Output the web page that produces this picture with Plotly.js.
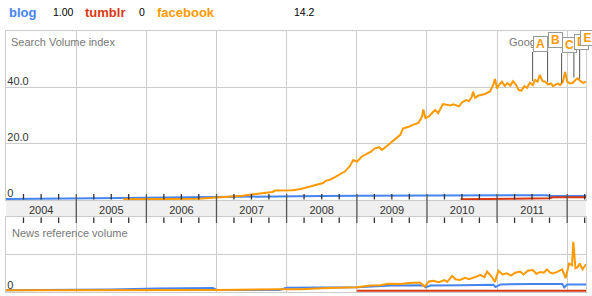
<!DOCTYPE html>
<html><head><meta charset="utf-8">
<script src="https://cdn.plot.ly/plotly-3.0.1.min.js"></script>
<style>html,body{margin:0;padding:0;background:#fff}#c{width:592px;height:296px}</style>
</head><body><div id="c"></div>
<script>
// ---- Search volume (decimal years) ----
const fbSearchYear = [2005.67,2005.8,2006.0,2006.25,2006.5,2006.75,2006.9,2007.0,2007.12,2007.25,2007.38,2007.5,2007.62,2007.72,2007.8,2007.84,2007.92,2008.0,2008.08,2008.19,2008.27,2008.33,2008.4,2008.47,2008.52,2008.56,2008.62,2008.69,2008.76,2008.83,2008.9,2008.95,2009.0,2009.07,2009.14,2009.2,2009.26,2009.32,2009.36,2009.42,2009.48,2009.55,2009.62,2009.66,2009.7,2009.75,2009.8,2009.85,2009.88,2009.93,2009.95,2009.98,2010.03,2010.08,2010.12,2010.16,2010.2,2010.23,2010.28,2010.33,2010.38,2010.42,2010.46,2010.5,2010.56,2010.6,2010.64,2010.66,2010.69,2010.73,2010.78,2010.83,2010.9,2010.95,2010.97,2011.0,2011.03,2011.07,2011.11,2011.15,2011.19,2011.23,2011.27,2011.31,2011.35,2011.39,2011.43,2011.47,2011.51,2011.54,2011.58,2011.61,2011.65,2011.69,2011.73,2011.77,2011.8,2011.83,2011.87,2011.9,2011.94,2011.97,2012.0,2012.04,2012.08,2012.12,2012.15,2012.19,2012.23,2012.27];
const fbSearchVal  = [0,0,0,0,0.05,0.2,0.45,0.6,0.8,1.0,1.3,1.7,2.0,2.3,2.6,3.1,3.1,3.0,3.2,3.6,4.1,4.7,5.0,5.5,5.8,6.6,7.0,7.9,8.8,9.9,11.8,14.0,13.4,15.2,16.2,17.0,18.2,18.6,17.6,18.8,20.0,21.4,23.0,25.3,25.6,26.0,26.6,27.0,27.3,29.5,32.1,29.0,29.6,31.0,31.9,30.7,32.5,34.0,33.8,33.5,33.9,33.6,33.2,34.6,35.4,35.0,36.5,38.4,36.2,37.0,37.3,37.6,38.5,41.0,43.0,39.6,40.8,42.0,40.5,41.5,40.6,42.2,41.0,39.0,38.8,40.4,39.8,41.6,40.8,42.6,42.0,44.4,42.2,42.0,41.0,41.4,40.4,40.8,41.4,40.8,42.0,45.5,42.0,41.4,41.6,42.6,43.2,42.2,41.6,42.0];
const blogSearchYear = [2004.0,2004.5,2004.8,2005.0,2005.5,2005.7,2006.0,2006.5,2007.0,2007.5,2008.0,2008.5,2009.0,2009.5,2010.0,2010.5,2011.0,2011.7,2011.78,2012.0,2012.27];
const blogSearchVal  = [0.1,0.15,0.15,0.25,0.35,0.45,0.55,0.7,0.9,1.1,1.2,1.2,1.25,1.3,1.35,1.45,1.45,1.45,1.2,1.15,1.15];
const tumblrSearchYear = [2010.48,2011.15,2011.2,2011.75,2011.8,2012.27];
const tumblrSearchVal  = [0,0.02,0.2,0.35,0.7,0.75];

// ---- News reference volume ----
const fbNewsYear = [2004.0,2005.0,2006.0,2007.0,2007.9,2008.2,2008.6,2009.0,2009.2,2009.33,2009.45,2009.62,2009.75,2009.9,2009.97,2010.03,2010.09,2010.17,2010.25,2010.29,2010.36,2010.41,2010.47,2010.55,2010.6,2010.66,2010.72,2010.76,2010.82,2010.86,2010.92,2010.97,2011.02,2011.08,2011.14,2011.2,2011.26,2011.33,2011.38,2011.44,2011.51,2011.56,2011.62,2011.67,2011.71,2011.76,2011.8,2011.86,2011.93,2011.98,2012.03,2012.07,2012.09,2012.12,2012.15,2012.18,2012.22,2012.27];
const fbNewsVal  = [0.02,0.02,0.02,0.03,0.05,0.05,0.08,0.1,0.15,0.16,0.2,0.19,0.22,0.23,0.12,0.26,0.28,0.24,0.3,0.25,0.41,0.32,0.3,0.36,0.32,0.35,0.4,0.44,0.38,0.53,0.4,0.25,0.55,0.45,0.48,0.42,0.5,0.53,0.45,0.55,0.57,0.47,0.52,0.5,0.59,0.5,0.48,0.52,0.59,0.35,0.75,0.7,1.34,0.62,0.65,0.75,0.59,0.73];
const blogNewsYear = [2004.0,2005.5,2006.15,2006.95,2007.0,2007.9,2008.0,2008.5,2009.0,2009.5,2009.95,2009.98,2010.05,2010.5,2010.95,2010.98,2011.05,2011.5,2011.93,2011.96,2012.0,2012.27];
const blogNewsVal  = [0.02,0.04,0.07,0.08,0.03,0.03,0.09,0.1,0.1,0.15,0.16,0.1,0.15,0.16,0.17,0.11,0.18,0.19,0.19,0.1,0.18,0.18];
const tumblrNewsYear = [2009.0,2010.0,2011.0,2012.27];
const tumblrNewsVal  = [0.01,0.01,0.01,0.01];

// ---- Labels ----
const years = [2004,2005,2006,2007,2008,2009,2010,2011,2012];
const quarterOffsets = [0.25,0.5,0.75];
const yTickVals = [0,20,40];
const yTickText = ['0','20.0','40.0'];
const flagLetters = ['A','B','C','D','E'];
const flagYear = [2011.508,2011.722,2011.922,2012.096,2012.178];
const flagBase = [42.2,42.0,41.5,43.5,43.0];
const flagTop  = [52.6,54.0,52.2,53.3,54.7];
const headerNames = ['blog','tumblr','facebook'];
const headerVals = ['1.00','0','14.2'];

const BLUE='#4684ee', RED='#dc3912', ORANGE='#ff9900';
const FONT='Arial, "Liberation Sans", sans-serif';

function toDate(d){
  const y=Math.floor(d), s=Date.UTC(y,0,1), e=Date.UTC(y+1,0,1);
  return new Date(s+(d-y)*(e-s)).toISOString().slice(0,10);
}
const D = a => a.map(toDate);

function line(x,y,color,xa,ya){
  return {type:'scatter',mode:'lines',x:D(x),y:y,xaxis:xa,yaxis:ya,
    line:{color:color,width:2},hoverinfo:'skip',showlegend:false};
}
const data = [
  line(blogSearchYear,blogSearchVal,BLUE,'x','y'),
  line(tumblrSearchYear,tumblrSearchVal,RED,'x','y'),
  line(fbSearchYear,fbSearchVal,ORANGE,'x','y'),
  line(tumblrNewsYear,tumblrNewsVal,RED,'x2','y2'),
  line(blogNewsYear,blogNewsVal,BLUE,'x2','y2'),
  line(fbNewsYear,fbNewsVal,ORANGE,'x2','y2')
];

const H=261, px2p = py => (292-py)/H, pxX = px => (px-6)/580;
const topDom=[px2p(200),1], botDom=[0,px2p(217)];
const range=[toDate(2004.0),toDate(2012.27)];

const xcommon = {type:'date',range:range,dtick:'M12',tick0:'2004-01-01',
  showgrid:true,gridcolor:'#cccccc',gridwidth:1,zeroline:false,ticks:'',
  showline:true,linecolor:'#cccccc',linewidth:1,mirror:true};

const shapes = [
  {type:'rect',xref:'paper',yref:'paper',x0:0,x1:1,y0:botDom[1],y1:topDom[0],fillcolor:'#efefef',line:{width:0},layer:'below'}
];
years.slice(1).forEach(y=>shapes.push({type:'line',xref:'x',yref:'paper',x0:toDate(y),x1:toDate(y),
  y0:px2p(223),y1:px2p(194),line:{color:'#555555',width:1.3}}));
years.forEach(y=>quarterOffsets.forEach(q=>{
  if (y+q>2012.27) return;
  const xd=toDate(y+q);
  shapes.push({type:'line',xref:'x',yref:'paper',x0:xd,x1:xd,y0:px2p(199.5),y1:px2p(194),line:{color:'#333333',width:1.3}});
  shapes.push({type:'line',xref:'x',yref:'paper',x0:xd,x1:xd,y0:px2p(217.5),y1:px2p(223),line:{color:'#333333',width:1.3}});
}));
flagYear.forEach((fy,i)=>shapes.push({type:'line',xref:'x',yref:'y',x0:toDate(fy),x1:toDate(fy),
  y0:flagBase[i],y1:flagTop[i],line:{color:'#555555',width:1}}));

const annotations = [
  {text:'Search Volume index',xref:'paper',yref:'paper',x:pxX(9),y:px2p(41.7),xanchor:'left',yanchor:'middle',showarrow:false,font:{family:FONT,size:11,color:'#777777'}},
  {text:'News reference volume',xref:'paper',yref:'paper',x:pxX(10),y:px2p(232.7),xanchor:'left',yanchor:'middle',showarrow:false,font:{family:FONT,size:11,color:'#777777'}},
  {text:'Google',xref:'paper',yref:'paper',x:pxX(507),y:px2p(41.7),xanchor:'left',yanchor:'middle',showarrow:false,font:{family:FONT,size:11,color:'#777777'}}
];
flagLetters.forEach((L,i)=>annotations.push({text:'<b>'+L+'</b>',xref:'x',yref:'y',x:toDate(flagYear[i]),y:flagTop[i],
  xanchor:'left',yanchor:'bottom',showarrow:false,bgcolor:'#ffffff',bordercolor:'#999999',borderwidth:1,borderpad:1,
  width:11,height:12,font:{family:FONT,size:12,color:ORANGE}}));
const hdrX=[[7,51],[83,137],[155,292]], hdrCol=[BLUE,RED,ORANGE];
headerNames.forEach((n,i)=>{
  annotations.push({text:'<b>'+n+'</b>',xref:'paper',yref:'paper',x:pxX(hdrX[i][0]),y:px2p(12),xanchor:'left',yanchor:'middle',showarrow:false,font:{family:FONT,size:13,color:hdrCol[i]}});
  annotations.push({text:headerVals[i],xref:'paper',yref:'paper',x:pxX(hdrX[i][1]),y:px2p(12),xanchor:'left',yanchor:'middle',showarrow:false,font:{family:FONT,size:10.5,color:'#000000'}});
});

const layout = {
  width:592,height:296,margin:{l:6,r:6,t:31,b:4},
  paper_bgcolor:'#ffffff',plot_bgcolor:'rgba(0,0,0,0)',
  font:{family:FONT,size:11,color:'#333333'},
  showlegend:false,
  xaxis:Object.assign({},xcommon,{anchor:'y',domain:[0,1],ticklabelmode:'period',showticklabels:true,
    tickfont:{family:FONT,size:11,color:'#333333'}}),
  xaxis2:Object.assign({},xcommon,{anchor:'y2',domain:[0,1],matches:'x',side:'top',showticklabels:false}),
  yaxis:{domain:topDom,anchor:'x',range:[-0.25,60.1],tickvals:yTickVals,ticktext:yTickText,ticklabelposition:'inside top',
    ticklabelshift:2,
    showgrid:true,gridcolor:'#cccccc',zeroline:false,ticks:'',showline:true,linecolor:'#cccccc',mirror:true,
    tickfont:{family:FONT,size:11,color:'#333333'}},
  yaxis2:{domain:botDom,anchor:'x2',range:[-0.027,2.016],tickvals:[0,1],ticktext:['0',''],ticklabelposition:'inside top',
    ticklabelshift:2,
    showgrid:true,gridcolor:'#cccccc',zeroline:false,ticks:'',showline:true,linecolor:'#cccccc',mirror:true,
    tickfont:{family:FONT,size:11,color:'#333333'}},
  shapes:shapes,annotations:annotations
};
Plotly.newPlot('c',data,layout,{displayModeBar:false,staticPlot:true});
</script></body></html>
